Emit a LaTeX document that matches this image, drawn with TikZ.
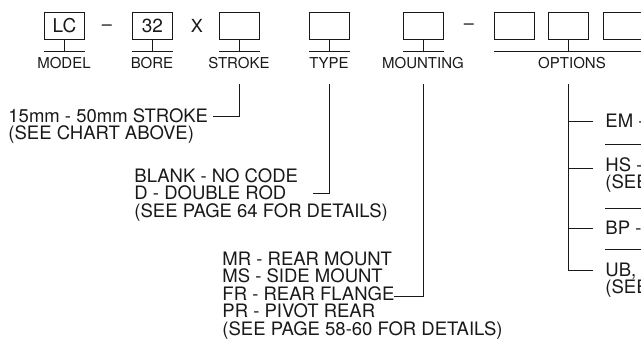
\documentclass[tikz,border=0pt]{standalone}
\usepackage{fontspec}
\setmainfont{TeX Gyre Heros}
\begin{document}
\begin{tikzpicture}[x=1pt,y=-1pt,line width=0.9pt,
  codebox/.style={draw=black!90,minimum width=40pt,minimum height=27pt,inner sep=0pt,anchor=north west,font=\fontsize{19}{19}\selectfont,text=black!90},
  lbl/.style={font=\fontsize{15}{15}\selectfont,anchor=base,inner sep=0pt,text=black!90},
  desc/.style={font=\fontsize{18.5}{17.5}\selectfont,align=left,anchor=base west,inner sep=0pt,text=black!90},
  sym/.style={font=\fontsize{18}{18}\selectfont,anchor=base,inner sep=0pt,text=black!90},
  conn/.style={draw=black!90,line width=0.9pt}]
\useasboundingbox (0,0) rectangle (641,343);
\clip (0,0) rectangle (641,343);
% code boxes
\node[codebox] (model) at (44,12) {LC};
\node[sym] (d1) at (107,30) {–};
\node[codebox] (bore) at (132,12) {32};
\node[sym] (xx) at (197,32) {X};
\node[codebox] (stroke) at (219,12) {};
\node[codebox] (type) at (309,12) {};
\node[codebox] (mount) at (403,12) {};
\node[sym] (d2) at (469,29) {–};
\node[codebox] (o1) at (494,12) {};
\node[codebox] (o2) at (548,12) {};
\node[codebox] (o3) at (603,12) {};
% stems and bars
\foreach \b in {model,bore,stroke,type,mount}{
  \draw[conn] (\b.south) -- (\b.south |- 0,51);
  \draw[conn] (\b.south west |- 0,51) -- (\b.south east |- 0,51);
}
\draw[conn] (o2.south) -- (o2.south |- 0,51);
\coordinate (oend) at (641,51);
\draw[conn] (o1.south west |- 0,51) -- (oend);
% labels
\node[lbl] (lmodel) at (64,68) {MODEL};
\node[lbl] (lbore) at (152,68) {BORE};
\node[lbl] (lstroke) at (239,68) {STROKE};
\node[lbl] (ltype) at (329,68) {TYPE};
\node[lbl] (lmount) at (423,68) {MOUNTING};
\node[lbl] (lopt) at (572,68) {OPTIONS};
% descriptions (base anchor = last line's baseline)
\node[desc] (dstroke) at (8,139.5) {15mm - 50mm STROKE\\(SEE CHART ABOVE)};
\node[desc] (dtype) at (134,217) {BLANK - NO CODE\\D - DOUBLE ROD\\(SEE PAGE 64 FOR DETAILS)};
\node[desc] (dmount) at (222,335) {MR - REAR MOUNT\\MS - SIDE MOUNT\\FR - REAR FLANGE\\PR - PIVOT REAR\\(SEE PAGE 58-60 FOR DETAILS)};
\node[desc] (dem) at (605,127.5) {EM -};
\node[desc] (dhs) at (605,188.5) {HS -\\(SEE};
\node[desc] (dbp) at (605,234) {BP -};
\node[desc] (dub) at (605,293.5) {UB,\\(SEE};
% connectors
\coordinate (cs) at (213,116);
\draw[conn] (lstroke.south |- 0,84) |- (cs);
\coordinate (ct) at (313,193);
\draw[conn] (ltype.south |- 0,84) |- (ct);
\coordinate (cm) at (394,296);
\draw[conn] (lmount.south |- 0,84) |- (cm);
\coordinate (otop) at (568,84);
\coordinate (cem) at (593,121);
\coordinate (chs) at (593,168);
\coordinate (cbp) at (593,228);
\coordinate (cub) at (593,270);
\draw[conn] (otop) |- (cub);
\draw[conn] (otop |- cem) -- (cem);
\draw[conn] (otop |- chs) -- (chs);
\draw[conn] (otop |- cbp) -- (cbp);
% separators
\draw[conn] (dem.west |- 0,144) -- (641,144);
\draw[conn] (dhs.west |- 0,208) -- (641,208);
\draw[conn] (dbp.west |- 0,249) -- (641,249);
\end{tikzpicture}
\end{document}
